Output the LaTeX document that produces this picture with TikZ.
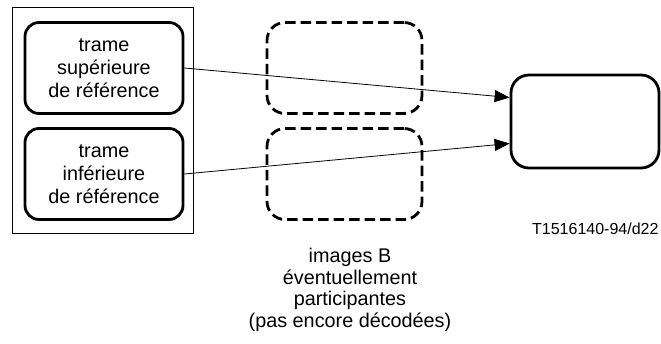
\documentclass[tikz,border=0pt]{standalone}
\usepackage{fontspec}
\setmainfont{Liberation Sans}
\usetikzlibrary{arrows.meta,calc}

\tikzset{
  trame/.style={draw, line width=2.8pt, rounded corners=14pt, minimum width=158pt, minimum height=91pt, align=center, font=\fontsize{19.8}{23}\selectfont},
  candidate/.style={draw, line width=2.8pt, dash pattern=on 10.5pt off 5pt, rounded corners=18pt, minimum width=155pt, minimum height=91pt},
  fleche/.style={-{Triangle[length=15pt,width=12pt]}, line width=0.8pt}
}

\begin{document}
\begin{tikzpicture}[x=1pt,y=-1pt]
        \useasboundingbox (0,0) rectangle (661,343);
        %cadre des trames de reference
        \node[draw, line width=0.9pt, minimum width=181pt, minimum height=226pt] (cadre) at (102.5,120){};
        \node[trame] (sup) at (104,68){trame\\supérieure\\de référence};
        \node[trame] (inf) at (104,174){trame\\inférieure\\de référence};

        %images B
        \node[candidate] (b1) at (344.5,68){};
        \node[candidate] (b2) at (344.5,174){};

        %image decodee
        \node[draw, line width=2.8pt, rounded corners=18pt, minimum width=148pt, minimum height=93pt] (cible) at (585,121.5){};

        \draw[fleche] (sup.east) -- ($(cible.west)+(0,-24)$);
        \draw[fleche] (inf.east) -- ($(cible.west)+(0,22)$);

        %textes
        \node[align=center, font=\fontsize{19.8}{21.5}\selectfont] (legende) at (350,290){images B\\éventuellement\\participantes\\(pas encore décodées)};
        \node[anchor=east, font=\fontsize{16}{18}\selectfont] (ref) at (662,229){T1516140-94/d22};
\end{tikzpicture}
\end{document}
